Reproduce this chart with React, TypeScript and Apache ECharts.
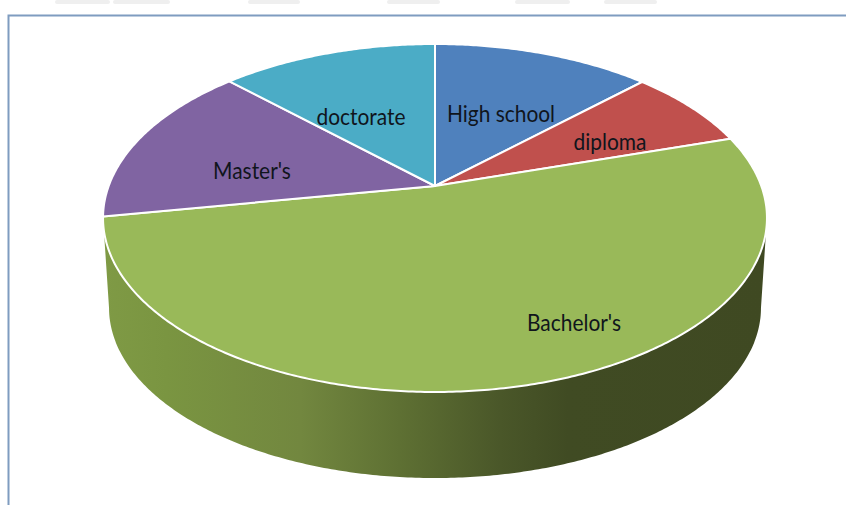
import React, { useEffect, useRef } from "react";
import * as echarts from "echarts";

// Share of respondents by education level, clockwise from twelve o'clock.
const categories = ["High school", "diploma", "Bachelor's", "Master's", "doctorate"];
const shares = [12.7, 7.5, 52, 15.2, 12.6];
const sliceColors = ["#4f81bd", "#c0504d", "#99b959", "#8064a2", "#4bacc6"];

const WIDTH = 846;
const HEIGHT = 505;

// Tilted-disc projection: a unit circle seen in perspective, so the centre sits above the ellipse's middle.
const CX = 435;
const PERSPECTIVE = 0.1839;
const TOP_RIM = { a: 326.3, b: 168.1, y0: 186 };
const BASE_RIM = { a: 320.4, b: 164.3, y0: 276.7 };

// Clockwise angles between which the outer wall faces the viewer.
const WALL_FROM = (100.6 * Math.PI) / 180;
const WALL_TO = (259.4 * Math.PI) / 180;

const LABEL_ANCHORS = [
  [501, 113],
  [610, 141],
  [574, 322],
  [252, 170],
  [361, 116],
];

const WALL_SHADES = [
  { offset: 0, color: "#7f9a45" },
  { offset: 0.096, color: "#7a9541" },
  { offset: 0.297, color: "#72873f" },
  { offset: 0.447, color: "#5e7033" },
  { offset: 0.598, color: "#4a5729" },
  { offset: 0.7, color: "#404b23" },
  { offset: 1, color: "#3f4922" },
];

const TABS = [
  [55, 55],
  [113, 57],
  [248, 52],
  [387, 53],
  [515, 55],
  [604, 53],
];

type Rim = { a: number; b: number; y0: number };

function rimPoint(theta: number, rim: Rim): number[] {
  const w = 1 + PERSPECTIVE * Math.cos(theta);
  return [CX + (rim.a * Math.sin(theta)) / w, rim.y0 - (rim.b * Math.cos(theta)) / w];
}

function arcPoints(from: number, to: number, rim: Rim): number[][] {
  const steps = Math.max(2, Math.ceil((to - from) / 0.01));
  const pts: number[][] = [];
  for (let i = 0; i <= steps; i++) pts.push(rimPoint(from + ((to - from) * i) / steps, rim));
  return pts;
}

function sliceSpan(index: number): [number, number] {
  const total = shares.reduce((s, v) => s + v, 0);
  const before = shares.slice(0, index).reduce((s, v) => s + v, 0);
  return [(before / total) * 2 * Math.PI, ((before + shares[index]) / total) * 2 * Math.PI];
}

export default function App() {
  const ref = useRef<HTMLDivElement>(null);

  useEffect(() => {
    if (!ref.current) return;
    const chart = echarts.init(ref.current, undefined, { renderer: "svg" });
    const data = categories.map((name, i) => ({ name, value: shares[i] }));

    chart.setOption({
      animation: false,
      backgroundColor: "#ffffff",
      graphic: [
        ...TABS.map(([x, w]) => ({
          type: "rect",
          shape: { x, y: 0, width: w, height: 4, r: 2 },
          style: { fill: "#efefef" },
        })),
        {
          type: "polyline",
          shape: { points: [[8.5, HEIGHT], [8.5, 15.5], [WIDTH, 15.5]] },
          style: { stroke: "#7f9cc0", lineWidth: 2, fill: "none" },
        },
      ],
      series: [
        {
          type: "custom",
          coordinateSystem: "none",
          name: "wall",
          silent: true,
          z: 2,
          data,
          renderItem: (params: any) => {
            const [start, end] = sliceSpan(params.dataIndex);
            const from = Math.max(start, WALL_FROM);
            const to = Math.min(end, WALL_TO);
            if (to <= from) return null;
            return {
              type: "polygon",
              shape: { points: [...arcPoints(from, to, TOP_RIM), ...arcPoints(from, to, BASE_RIM).reverse()] },
              style: {
                fill: new echarts.graphic.LinearGradient(103, 0, 767, 0, WALL_SHADES, true),
              },
            };
          },
        },
        {
          type: "custom",
          coordinateSystem: "none",
          name: "top",
          silent: true,
          z: 3,
          data,
          renderItem: (params: any) => {
            const i = params.dataIndex;
            const [start, end] = sliceSpan(i);
            const [lx, ly] = LABEL_ANCHORS[i];
            return {
              type: "group",
              children: [
                {
                  type: "polygon",
                  shape: { points: [[CX, TOP_RIM.y0], ...arcPoints(start, end, TOP_RIM)] },
                  style: { fill: sliceColors[i], stroke: "#ffffff", lineWidth: 2, lineJoin: "round" },
                },
                {
                  type: "text",
                  z2: 10,
                  x: lx,
                  y: ly,
                  scaleX: 0.91,
                  style: {
                    text: categories[i],
                    fontFamily: "Lato",
                    fontSize: 23,
                    fill: "#10151c",
                    align: "center",
                    verticalAlign: "middle",
                  },
                },
              ],
            };
          },
        },
      ],
    });
    return () => chart.dispose();
  }, []);

  return <div ref={ref} style={{ position: "absolute", left: 0, top: 0, width: WIDTH, height: HEIGHT }} />;
}
